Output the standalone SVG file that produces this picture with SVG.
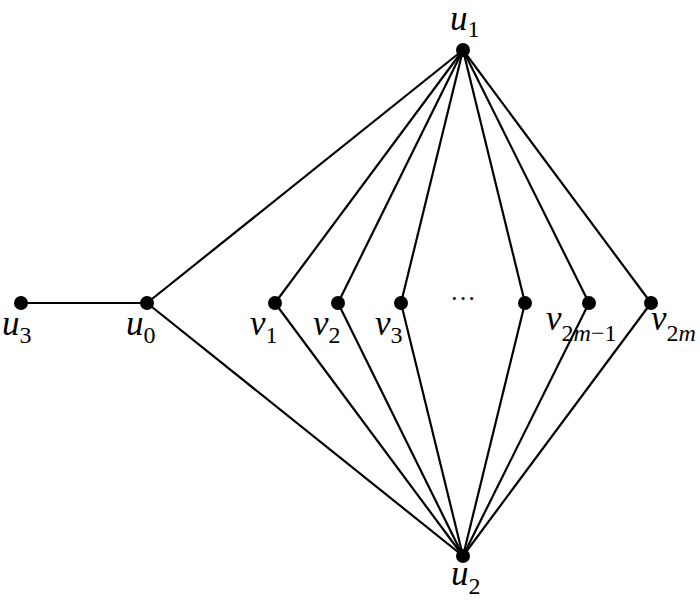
<svg xmlns="http://www.w3.org/2000/svg" width="700" height="606" viewBox="0 0 700 606">
<style>
.e{stroke:#000;stroke-width:2.2;fill:none}
.n{fill:#000}
text{font-family:'Liberation Serif','Times New Roman',serif;font-style:italic;font-size:35px;fill:#000}
.s{font-style:normal;font-size:24px}
.sm{font-style:italic;font-size:24px}
</style>
<rect width="700" height="606" fill="#fff"/>
<g id="edges">
<line class="e" x1="21" y1="303" x2="147" y2="303"/>
<line class="e" x1="147" y1="303" x2="463" y2="50"/>
<line class="e" x1="147" y1="303" x2="463" y2="556"/>
<line class="e" x1="275" y1="303" x2="463" y2="50"/>
<line class="e" x1="275" y1="303" x2="463" y2="556"/>
<line class="e" x1="338" y1="303" x2="463" y2="50"/>
<line class="e" x1="338" y1="303" x2="463" y2="556"/>
<line class="e" x1="401" y1="303" x2="463" y2="50"/>
<line class="e" x1="401" y1="303" x2="463" y2="556"/>
<line class="e" x1="525" y1="303" x2="463" y2="50"/>
<line class="e" x1="525" y1="303" x2="463" y2="556"/>
<line class="e" x1="589" y1="303" x2="463" y2="50"/>
<line class="e" x1="589" y1="303" x2="463" y2="556"/>
<line class="e" x1="651" y1="303" x2="463" y2="50"/>
<line class="e" x1="651" y1="303" x2="463" y2="556"/>
</g>
<g id="u1"><circle class="n" cx="463" cy="50" r="7"/><text x="450" y="30">u<tspan class="s" dy="7">1</tspan></text></g>
<g id="u2"><circle class="n" cx="463" cy="556" r="7"/><text x="451" y="585">u<tspan class="s" dy="9">2</tspan></text></g>
<g id="u3"><circle class="n" cx="21" cy="303" r="7"/><text x="2" y="335">u<tspan class="s" dy="8">3</tspan></text></g>
<g id="u0"><circle class="n" cx="147" cy="303" r="7"/><text x="126" y="335">u<tspan class="s" dy="8">0</tspan></text></g>
<g id="v1"><circle class="n" cx="275" cy="303" r="7"/><text x="250" y="335">v<tspan class="s" dy="8">1</tspan></text></g>
<g id="v2"><circle class="n" cx="338" cy="303" r="7"/><text x="313" y="335">v<tspan class="s" dy="8">2</tspan></text></g>
<g id="v3"><circle class="n" cx="401" cy="303" r="7"/><text x="375" y="335">v<tspan class="s" dy="8">3</tspan></text></g>
<g id="v4"><circle class="n" cx="525" cy="303" r="7"/></g>
<g id="v2m-1"><circle class="n" cx="589" cy="303" r="7"/><text x="546" y="330">v<tspan class="s" dy="11">2</tspan><tspan class="sm">m</tspan><tspan class="s">−1</tspan></text></g>
<g id="v2m"><circle class="n" cx="651" cy="303" r="7"/><text x="651" y="330">v<tspan class="s" dy="11">2</tspan><tspan class="sm">m</tspan></text></g>
<g id="dots"><text x="463" y="307" text-anchor="middle" style="font-style:normal;font-size:26px">···</text></g>
</svg>
